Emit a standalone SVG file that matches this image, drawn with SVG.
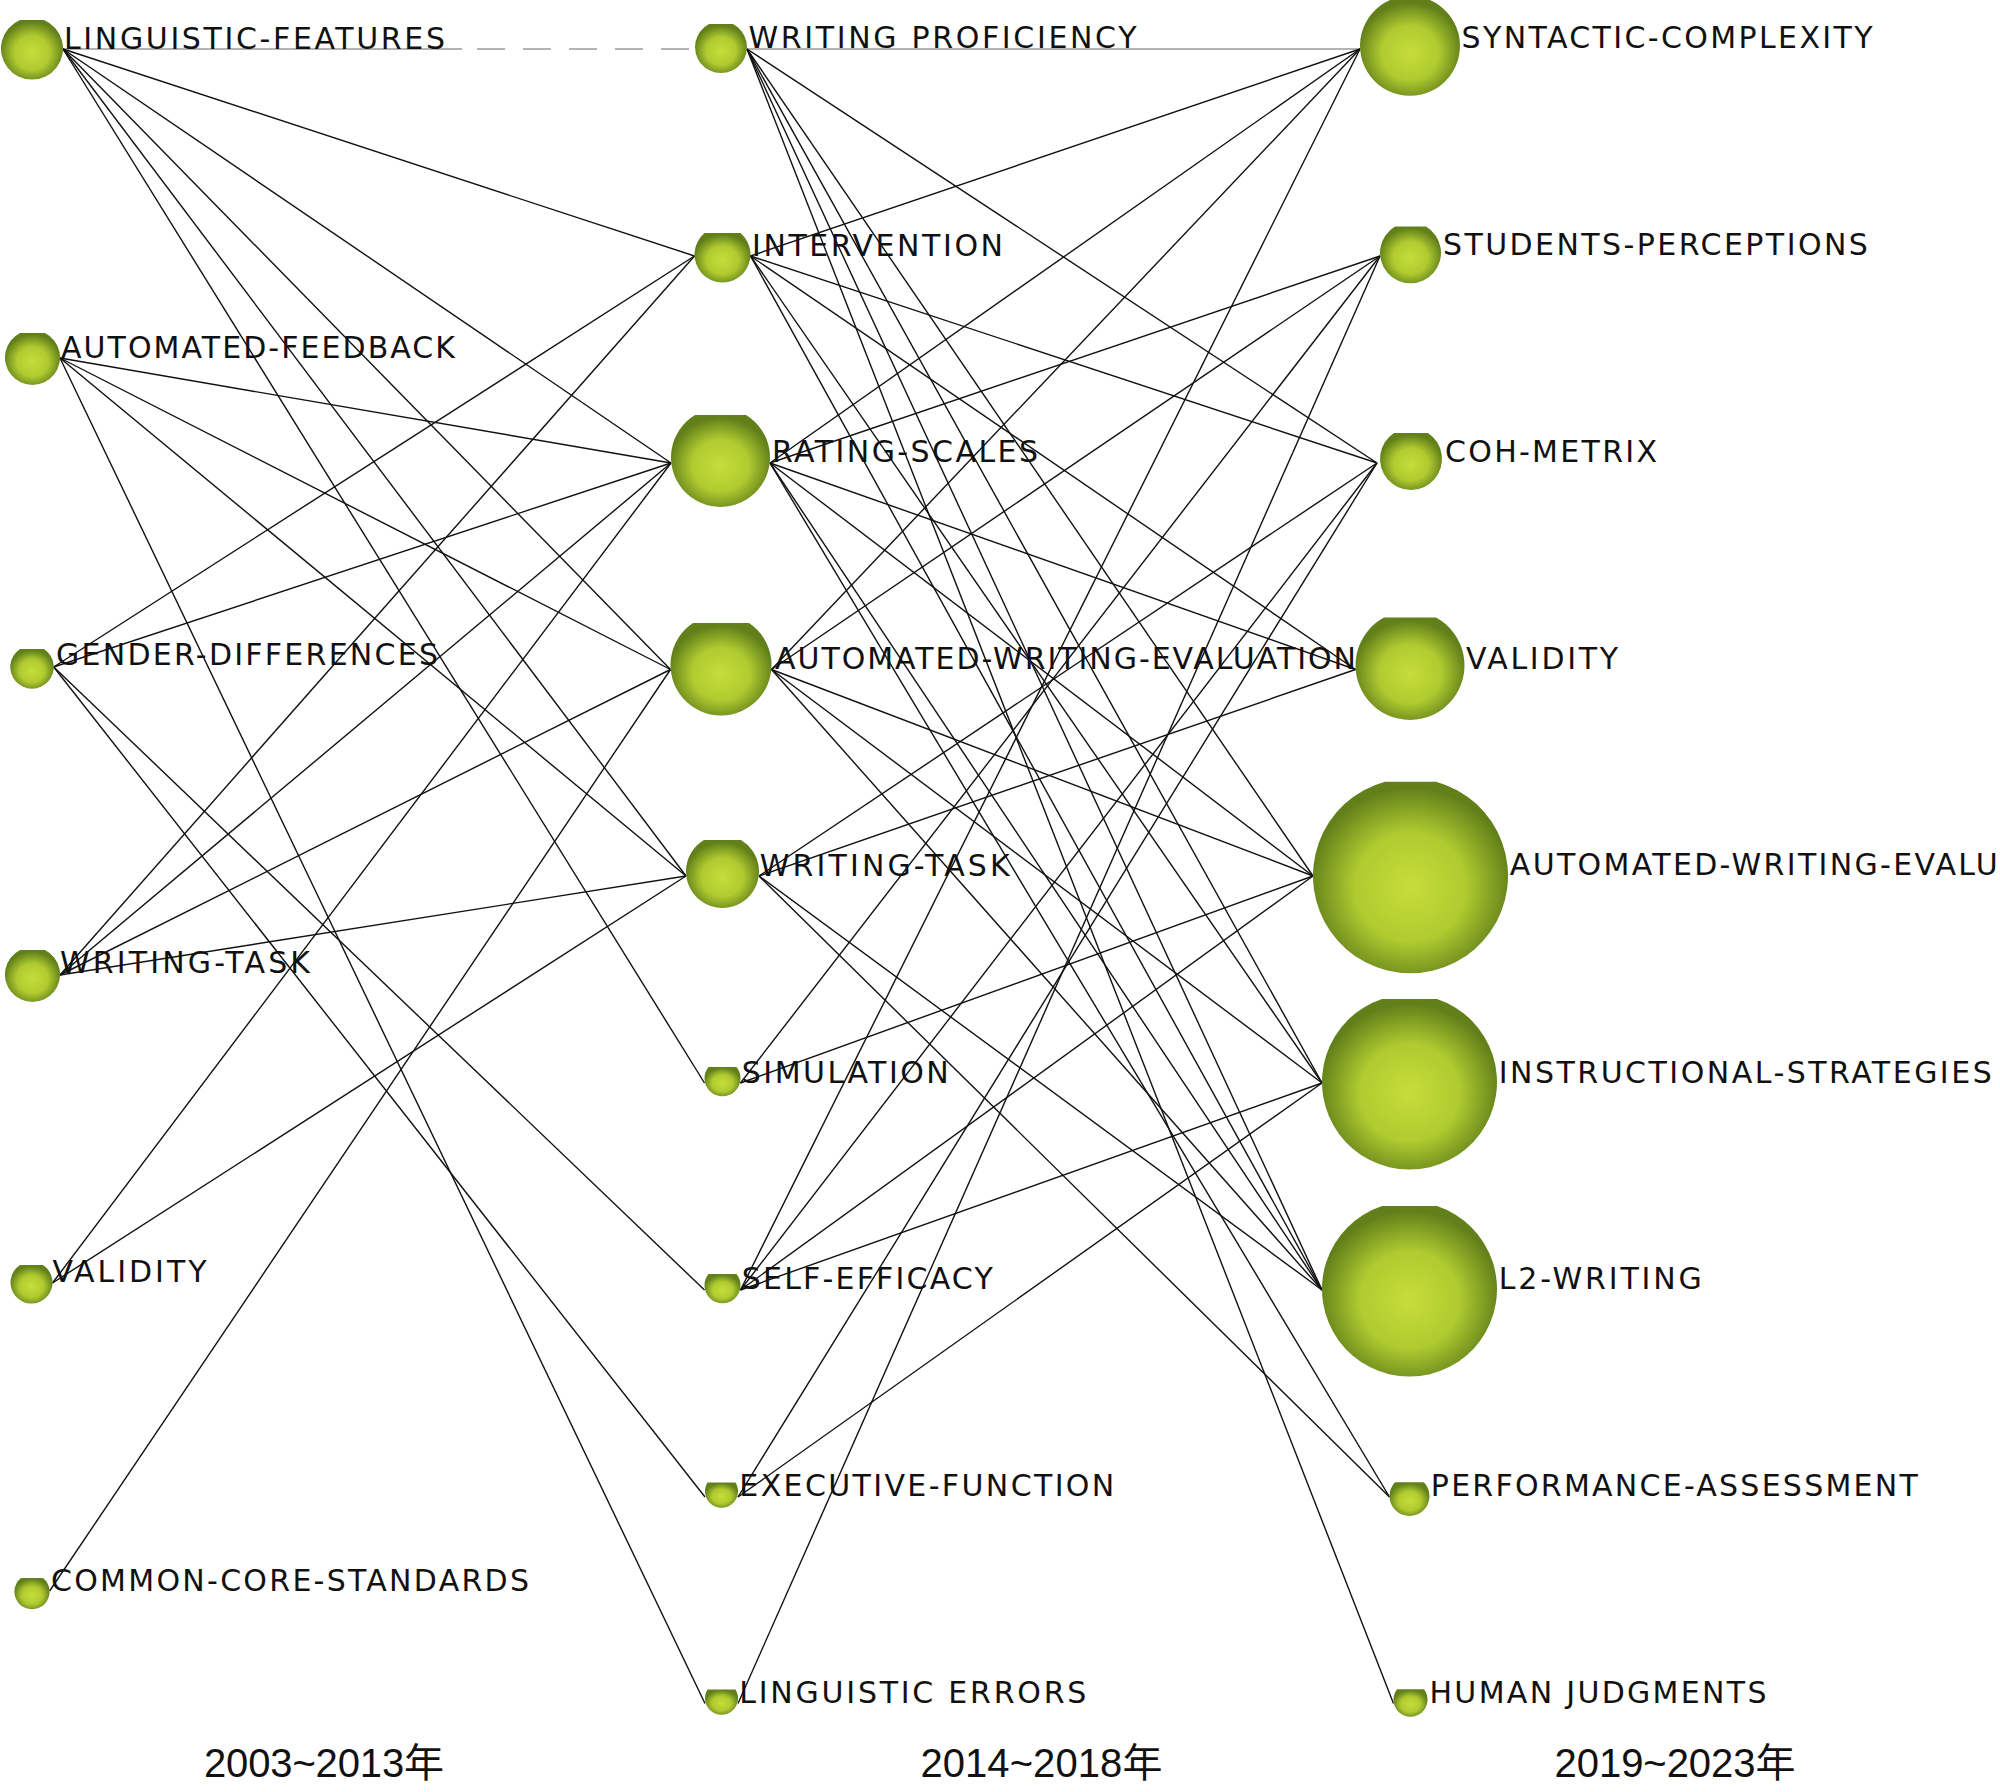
<svg xmlns="http://www.w3.org/2000/svg" width="2000" height="1792" viewBox="0 0 2000 1792">
<defs>
<radialGradient id="ball" cx="50%" cy="55%" r="52%">
<stop offset="0" stop-color="#c6de3a"/>
<stop offset="0.55" stop-color="#b0ca30"/>
<stop offset="1" stop-color="#62801a"/>
</radialGradient>
<style>
.n{fill:url(#ball)}
.lb{font-family:"DejaVu Sans",sans-serif;font-size:30px;fill:#111}
.yr{font-family:"Liberation Sans Narrow","Liberation Sans","Noto Sans CJK SC",sans-serif;font-size:40px;fill:#111}
.e{stroke:#111;stroke-width:1.4;fill:none}
.g{stroke:#9a9a9a;stroke-width:1.6;fill:none}
</style>
</defs>
<rect width="2000" height="1792" fill="#fff"/>
<g id="connectors">
<line class="g" x1="63" y1="49" x2="462" y2="49"/>
<line class="g" x1="477" y1="49" x2="695" y2="49" stroke-dasharray="28 18"/>
<line class="g" x1="747" y1="49" x2="1360" y2="49"/>
<line class="e" x1="63" y1="49" x2="694.5" y2="256"/>
<line class="e" x1="63" y1="49" x2="671" y2="463"/>
<line class="e" x1="63" y1="49" x2="670.5" y2="669.5"/>
<line class="e" x1="63" y1="49" x2="686" y2="876"/>
<line class="e" x1="63" y1="49" x2="704.5" y2="1083"/>
<line class="e" x1="60" y1="358" x2="671" y2="463"/>
<line class="e" x1="60" y1="358" x2="670.5" y2="669.5"/>
<line class="e" x1="60" y1="358" x2="686" y2="876"/>
<line class="e" x1="60" y1="358" x2="705" y2="1703.5"/>
<line class="e" x1="53.7" y1="667" x2="694.5" y2="256"/>
<line class="e" x1="53.7" y1="667" x2="671" y2="463"/>
<line class="e" x1="53.7" y1="667" x2="704.5" y2="1290"/>
<line class="e" x1="53.7" y1="667" x2="705" y2="1497"/>
<line class="e" x1="60" y1="975" x2="694.5" y2="256"/>
<line class="e" x1="60" y1="975" x2="671" y2="463"/>
<line class="e" x1="60" y1="975" x2="670.5" y2="669.5"/>
<line class="e" x1="60" y1="975" x2="686" y2="876"/>
<line class="e" x1="52.5" y1="1283" x2="671" y2="463"/>
<line class="e" x1="52.5" y1="1283" x2="686" y2="876"/>
<line class="e" x1="49.6" y1="1591" x2="670.5" y2="669.5"/>
<line class="e" x1="747" y1="49" x2="1377" y2="463"/>
<line class="e" x1="747" y1="49" x2="1313" y2="876"/>
<line class="e" x1="747" y1="49" x2="1322" y2="1083"/>
<line class="e" x1="747" y1="49" x2="1322" y2="1290"/>
<line class="e" x1="747" y1="49" x2="1393.5" y2="1703.5"/>
<line class="e" x1="750.5" y1="256" x2="1360" y2="49"/>
<line class="e" x1="750.5" y1="256" x2="1377" y2="463"/>
<line class="e" x1="750.5" y1="256" x2="1355.5" y2="669.5"/>
<line class="e" x1="750.5" y1="256" x2="1322" y2="1083"/>
<line class="e" x1="750.5" y1="256" x2="1322" y2="1290"/>
<line class="e" x1="770" y1="463" x2="1360" y2="49"/>
<line class="e" x1="770" y1="463" x2="1380" y2="256"/>
<line class="e" x1="770" y1="463" x2="1355.5" y2="669.5"/>
<line class="e" x1="770" y1="463" x2="1313" y2="876"/>
<line class="e" x1="770" y1="463" x2="1322" y2="1290"/>
<line class="e" x1="770" y1="463" x2="1389.5" y2="1497"/>
<line class="e" x1="771.5" y1="669.5" x2="1360" y2="49"/>
<line class="e" x1="771.5" y1="669.5" x2="1380" y2="256"/>
<line class="e" x1="771.5" y1="669.5" x2="1313" y2="876"/>
<line class="e" x1="771.5" y1="669.5" x2="1322" y2="1083"/>
<line class="e" x1="771.5" y1="669.5" x2="1322" y2="1290"/>
<line class="e" x1="759" y1="876" x2="1377" y2="463"/>
<line class="e" x1="759" y1="876" x2="1355.5" y2="669.5"/>
<line class="e" x1="759" y1="876" x2="1322" y2="1290"/>
<line class="e" x1="759" y1="876" x2="1389.5" y2="1497"/>
<line class="e" x1="740.5" y1="1083" x2="1380" y2="256"/>
<line class="e" x1="740.5" y1="1083" x2="1313" y2="876"/>
<line class="e" x1="740.5" y1="1290" x2="1360" y2="49"/>
<line class="e" x1="740.5" y1="1290" x2="1377" y2="463"/>
<line class="e" x1="740.5" y1="1290" x2="1313" y2="876"/>
<line class="e" x1="740.5" y1="1290" x2="1322" y2="1083"/>
<line class="e" x1="738" y1="1497" x2="1377" y2="463"/>
<line class="e" x1="738" y1="1497" x2="1322" y2="1083"/>
<line class="e" x1="738" y1="1703.5" x2="1380" y2="256" stroke-width="2.2"/>
</g>
<g id="n-linguistic-features"><path class="n" d="M20 20 H44 A31 31 0 1 1 20 20 Z"/><text class="lb" x="64" y="48.5" textLength="381">LINGUISTIC-FEATURES</text></g>
<g id="n-automated-feedback"><path class="n" d="M20 333 H45 A27.5 27.5 0 1 1 20 333 Z"/><text class="lb" x="61" y="357.7" textLength="394">AUTOMATED-FEEDBACK</text></g>
<g id="n-gender-differences"><path class="n" d="M20 649 H44 A21.7 21.7 0 1 1 20 649 Z"/><text class="lb" x="56" y="665" textLength="382">GENDER-DIFFERENCES</text></g>
<g id="n-writing-task-1"><path class="n" d="M20 950 H45 A27.5 27.5 0 1 1 20 950 Z"/><text class="lb" x="60" y="973" textLength="250">WRITING-TASK</text></g>
<g id="n-validity-1"><path class="n" d="M20 1265 H43 A21 21 0 1 1 20 1265 Z"/><text class="lb" x="52.5" y="1282" textLength="154">VALIDITY</text></g>
<g id="n-common-core-standards"><path class="n" d="M21 1578 H43 A17.6 17.6 0 1 1 21 1578 Z"/><text class="lb" x="51" y="1590.7" textLength="478">COMMON-CORE-STANDARDS</text></g>
<g id="n-writing-proficiency"><path class="n" d="M709 24 H733 A26 26 0 1 1 709 24 Z"/><text class="lb" x="748.5" y="48.3" textLength="388">WRITING PROFICIENCY</text></g>
<g id="n-intervention"><path class="n" d="M704.5 233 H740.5 A28 28 0 1 1 704.5 233 Z"/><text class="lb" x="752" y="256" textLength="251">INTERVENTION</text></g>
<g id="n-rating-scales"><path class="n" d="M695 415 H746 A49.5 49.5 0 1 1 695 415 Z"/><text class="lb" x="772" y="462" textLength="266">RATING-SCALES</text></g>
<g id="n-automated-writing-evaluation-2"><path class="n" d="M693 623 H749 A50.5 50.5 0 1 1 693 623 Z"/><text class="lb" x="775" y="669" textLength="581">AUTOMATED-WRITING-EVALUATION</text></g>
<g id="n-writing-task-2"><path class="n" d="M704 840 H741 A36.5 36.5 0 1 1 704 840 Z"/><text class="lb" x="759.7" y="876" textLength="250">WRITING-TASK</text></g>
<g id="n-simulation"><path class="n" d="M708.5 1067 H736.5 A18 18 0 1 1 708.5 1067 Z"/><text class="lb" x="741.8" y="1082.7" textLength="207">SIMULATION</text></g>
<g id="n-self-efficacy"><path class="n" d="M708.5 1274 H736.5 A18 18 0 1 1 708.5 1274 Z"/><text class="lb" x="741.8" y="1289.3" textLength="251">SELF-EFFICACY</text></g>
<g id="n-executive-function"><path class="n" d="M707.5 1482.5 H735.5 A16.5 16.5 0 1 1 707.5 1482.5 Z"/><text class="lb" x="739.3" y="1496" textLength="375">EXECUTIVE-FUNCTION</text></g>
<g id="n-linguistic-errors"><path class="n" d="M707.5 1689.5 H735.5 A16.5 16.5 0 1 1 707.5 1689.5 Z"/><text class="lb" x="739.3" y="1702.7" textLength="347">LINGUISTIC ERRORS</text></g>
<g id="n-syntactic-complexity"><path class="n" d="M1390 0 H1430 A50 50 0 1 1 1390 0 Z"/><text class="lb" x="1461.6" y="48.3" textLength="411">SYNTACTIC-COMPLEXITY</text></g>
<g id="n-students-perceptions"><path class="n" d="M1395 226.5 H1426 A30.5 30.5 0 1 1 1395 226.5 Z"/><text class="lb" x="1442.9" y="255" textLength="425">STUDENTS-PERCEPTIONS</text></g>
<g id="n-coh-metrix"><path class="n" d="M1394 433 H1428 A31 31 0 1 1 1394 433 Z"/><text class="lb" x="1445" y="462.3" textLength="212">COH-METRIX</text></g>
<g id="n-validity-3"><path class="n" d="M1384 617.5 H1436 A54.5 54.5 0 1 1 1384 617.5 Z"/><text class="lb" x="1466" y="669" textLength="152">VALIDITY</text></g>
<g id="n-automated-writing-evaluation-3"><path class="n" d="M1385 781.7 H1436 A97.5 97.5 0 1 1 1385 781.7 Z"/><text class="lb" x="1509.8" y="875" textLength="488">AUTOMATED-WRITING-EVALU</text></g>
<g id="n-instructional-strategies"><path class="n" d="M1382 999 H1437 A87.5 87.5 0 1 1 1382 999 Z"/><text class="lb" x="1498.7" y="1082.7" textLength="493">INSTRUCTIONAL-STRATEGIES</text></g>
<g id="n-l2-writing"><path class="n" d="M1382 1206 H1437 A87.5 87.5 0 1 1 1382 1206 Z"/><text class="lb" x="1498.7" y="1289.3" textLength="203">L2-WRITING</text></g>
<g id="n-performance-assessment"><path class="n" d="M1395 1482.3 H1424 A20 20 0 1 1 1395 1482.3 Z"/><text class="lb" x="1430.8" y="1496" textLength="487">PERFORMANCE-ASSESSMENT</text></g>
<g id="n-human-judgments"><path class="n" d="M1397 1689.3 H1424 A17 17 0 1 1 1397 1689.3 Z"/><text class="lb" x="1429.5" y="1702.7" textLength="337">HUMAN JUDGMENTS</text></g>
<g id="year-labels">
<text class="yr" x="204" y="1776.7" textLength="240">2003~2013年</text>
<text class="yr" x="920.4" y="1776.7" textLength="242">2014~2018年</text>
<text class="yr" x="1554.5" y="1776.7" textLength="241">2019~2023年</text>
</g>
</svg>
